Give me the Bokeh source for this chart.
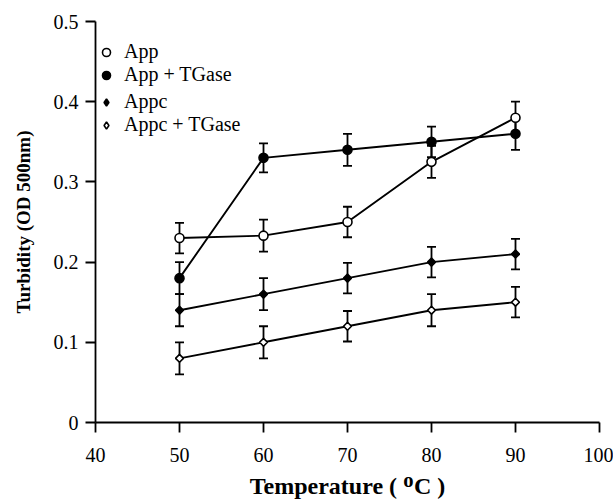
import math
from bokeh.plotting import figure
from bokeh.models import ColumnDataSource, Whisker, TeeHead, Legend, LegendItem, FixedTicker, Range1d
from bokeh.embed import file_html
from bokeh.resources import INLINE

temps = [50, 60, 70, 80, 90]
app = [0.230, 0.233, 0.250, 0.325, 0.380]
app_err = [0.019, 0.020, 0.019, 0.020, 0.020]
app_tg = [0.180, 0.330, 0.340, 0.350, 0.360]
app_tg_err = [0.020, 0.018, 0.020, 0.019, 0.020]
appc = [0.140, 0.160, 0.180, 0.200, 0.210]
appc_err = [0.020, 0.020, 0.019, 0.019, 0.019]
appc_tg = [0.080, 0.100, 0.120, 0.140, 0.150]
appc_tg_err = [0.020, 0.020, 0.019, 0.020, 0.019]

names = ["App", "App + TGase", "Appc", "Appc + TGase"]
x_ticks = [40, 50, 60, 70, 80, 90, 100]
y_ticks = [0, 0.1, 0.2, 0.3, 0.4, 0.5]

FONT = "Liberation Serif"

p = figure(width=613, height=501, output_backend="svg", toolbar_location=None,
           x_range=Range1d(40, 100), y_range=Range1d(0, 0.5),
           min_border_left=95, min_border_right=14, min_border_top=21, min_border_bottom=78)
p.outline_line_color = None
p.grid.visible = False
p.background_fill_color = "white"

for ax in (p.xaxis[0], p.yaxis[0]):
    ax.axis_line_width = 1.8
    ax.major_tick_line_width = 1.8
    ax.major_tick_out = 10
    ax.major_tick_in = 0
    ax.minor_tick_line_color = None
    ax.major_label_text_font = FONT
    ax.major_label_text_font_size = "20px"
    ax.major_label_text_color = "black"
    ax.axis_label_text_font = FONT
    ax.axis_label_text_font_style = "bold"
    ax.axis_label_text_color = "black"
    ax.axis_line_color = "black"
    ax.major_tick_line_color = "black"

p.xaxis.ticker = FixedTicker(ticks=x_ticks)
p.yaxis.ticker = FixedTicker(ticks=y_ticks)
p.yaxis.major_label_overrides = {0: "0"}
p.xaxis.major_label_standoff = 15
p.yaxis.major_label_standoff = 7
p.xaxis.axis_label = "Temperature ( \u1d3cC )"
p.yaxis.axis_label = "Turbidity (OD 500nm)"
p.xaxis.axis_label_text_font_size = "24px"
p.yaxis.axis_label_text_font_size = "19px"
p.xaxis.axis_label_standoff = 8
p.yaxis.axis_label_standoff = 17

series = [
    (app, app_err, "circle", "white", 9, 0),
    (app_tg, app_tg_err, "circle", "black", 9, 0),
    (appc, appc_err, "square", "black", 5.6, math.pi / 4),
    (appc_tg, appc_tg_err, "square", "white", 5.6, math.pi / 4),
]

items = []
for (vals, errs, marker, fill, size, ang), name in zip(series, names):
    src = ColumnDataSource(dict(x=temps, y=vals,
                                lo=[v - e for v, e in zip(vals, errs)],
                                hi=[v + e for v, e in zip(vals, errs)]))
    w = Whisker(source=src, base="x", upper="hi", lower="lo",
                line_width=1.8, line_color="black",
                upper_head=TeeHead(size=9, line_width=1.8, line_color="black"),
                lower_head=TeeHead(size=9, line_width=1.8, line_color="black"))
    p.add_layout(w)
    p.line("x", "y", source=src, line_width=1.9, line_color="black")
    key = None
    if marker == "square":
        # legend key drawn as a diamond (legend ignores marker angle); hidden under the real marker
        key = p.scatter("x", "y", source=src, marker="diamond", size=1,
                        fill_color=fill, line_color="black", line_width=1.6)
    r = p.scatter("x", "y", source=src, marker=marker, size=size, angle=ang,
                  fill_color=fill, line_color="black", line_width=1.6)
    items.append(LegendItem(label=name, renderers=[key if key is not None else r]))

common = dict(orientation="vertical", label_text_font=FONT, label_text_font_size="20px",
              label_text_color="black", label_height=20, spacing=0, padding=4, margin=0,
              border_line_color=None, background_fill_alpha=0)
legend1 = Legend(items=items[:2], location=(1, 336), glyph_width=20, glyph_height=20,
                 label_standoff=8, **common)
legend2 = Legend(items=items[2:], location=(2, 286), glyph_width=18, glyph_height=18,
                 label_standoff=9, **common)
p.add_layout(legend1)
p.add_layout(legend2)

open("out.html", "w").write(file_html(p, INLINE))
